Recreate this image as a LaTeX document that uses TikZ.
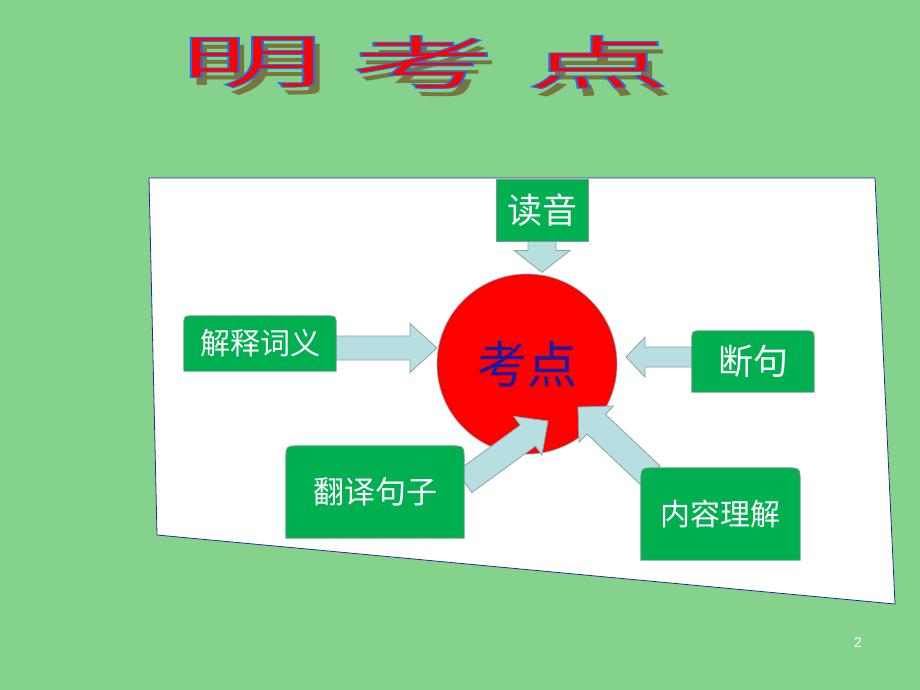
\documentclass[tikz,border=0pt]{standalone}
\usepackage{fontspec}
\newfontfamily\cjk{Noto Sans CJK SC}
\newfontfamily\numfont{Liberation Sans}
\usetikzlibrary{calc}

\definecolor{slidegreen}{RGB}{132,210,140}
\definecolor{boxgreen}{RGB}{0,176,80}
\definecolor{boxedge}{RGB}{128,150,150}
\definecolor{arrfill}{RGB}{183,222,225}
\definecolor{arredge}{RGB}{135,165,172}
\definecolor{paneledge}{RGB}{40,40,150}
\definecolor{titleshade}{RGB}{118,118,62}
\definecolor{pointblue}{RGB}{25,25,165}

\pgfdeclarelayer{back}
\pgfdeclarelayer{arrows}
\pgfdeclarelayer{boxes}
\pgfsetlayers{back,arrows,boxes,main}

\tikzset{
  boxtext/.style={text=white,inner sep=0pt},
  tabline/.style={fill=boxgreen,draw=boxedge,line width=0.8pt},
  fatarr/.style={fill=arrfill,draw=arredge,line width=0.8pt,line join=miter},
  titlechar/.style={font=\cjk\fontsize{58}{58}\selectfont,xscale=2.5,inner sep=0pt},
}

% box with rounded top corners around a node
\newcommand\tabbox[2]{%
  \filldraw[tabline] (#1.south west) -- ($(#1.north west)+(0,#2)$)
    .. controls (#1.north west) .. ($(#1.north west)+(#2,0)$)
    -- ($(#1.north east)+(-#2,0)$)
    .. controls (#1.north east) .. ($(#1.north east)+(0,#2)$)
    -- (#1.south east) -- cycle;}

% block arrow: foot, tip, shaft half width, head half width, head length
\newcommand\fatarrow[5]{%
  \coordinate (hb) at ($(#2)!#5!(#1)$);
  \filldraw[fatarr] ($(#1)!#3!90:(#2)$) -- ($(hb)!#3!90:(#2)$) -- ($(hb)!#4!90:(#2)$)
    -- (#2) -- ($(hb)!#4!-90:(#2)$) -- ($(hb)!#3!-90:(#2)$) -- ($(#1)!#3!-90:(#2)$) -- cycle;}

% red letters with a blue outline
\newcommand\outlined[1]{\special{pdf:code q 2 Tr 0.9 w 0.118 0.431 0.922 RG}#1\special{pdf:code Q}}

\newcommand\titleword[3]{%
  \node[titlechar,text=titleshade] at (#2+6,70) {#3};
  \node[titlechar,text=red] (#1) at (#2,62) {\outlined{#3}};}

\begin{document}
\begin{tikzpicture}[x=1pt,y=-1pt]

\begin{pgfonlayer}{back}
	\fill[slidegreen] (0,0) rectangle (920,690);
	\useasboundingbox (0,0) rectangle (920,690);
	\filldraw[fill=white,draw=paneledge,line width=0.8pt] (149,178) -- (875,178) -- (895,604) -- (157,535) -- cycle;
	\node[circle,fill=red,draw=arredge,line width=0.6pt,minimum size=180pt,inner sep=0pt,
	      text=pointblue,font=\cjk\fontsize{50}{50}\selectfont] (kd) at (527,364) {考点};
\end{pgfonlayer}

	\titleword{ming}{252}{明}
	\titleword{kao}{423}{考}
	\titleword{dian}{598}{点}

	\node[boxtext,fill=boxgreen,draw=boxedge,line width=0.8pt,minimum width=92pt,minimum height=62pt,
	      font=\cjk\fontsize{35}{35}\selectfont] (dy) at (542,210) {读音};
	\node[boxtext,minimum width=152pt,minimum height=55pt,font=\cjk\fontsize{30}{30}\selectfont] (jsc) at (260,343.5) {解释词义};
	\node[boxtext,minimum width=122pt,minimum height=61pt,font=\cjk\fontsize{35}{35}\selectfont] (dj) at (753,361.5) {断句};
	\node[boxtext,minimum width=178pt,minimum height=92pt,font=\cjk\fontsize{31}{31}\selectfont] (fy) at (375,492) {翻译句子};
	\node[boxtext,minimum width=159pt,minimum height=92pt,font=\cjk\fontsize{30}{30}\selectfont] (nr) at (720.5,514) {内容理解};

	\node[text=white,font=\numfont\fontsize{14}{14}\selectfont] (pg) at (858,643) {2};

\begin{pgfonlayer}{boxes}
	\tabbox{jsc}{10}
	\tabbox{dj}{10}
	\tabbox{fy}{15}
	\tabbox{nr}{15}
\end{pgfonlayer}

\begin{pgfonlayer}{arrows}
	\coordinate (dyTip) at ($(dy.south)+(0,31)$);
	\coordinate (jscTip) at (437,348);
	\coordinate (djTip) at (626,357);
	\coordinate (fyTip) at (548,421);
	\coordinate (fyFoot) at ($(fy.east)+(0,-10)$);
	\coordinate (nrTip) at (578,407);
	\coordinate (nrFoot) at ($(nr.north west)+(10,8)$);
	\fatarrow{dy.south}{dyTip}{14pt}{28pt}{22pt}
	\fatarrow{jsc.east |- jscTip}{jscTip}{12pt}{24.5pt}{27pt}
	\fatarrow{dj.west |- djTip}{djTip}{10pt}{20pt}{19pt}
	\fatarrow{fyFoot}{fyTip}{13pt}{24pt}{25pt}
	\fatarrow{nrFoot}{nrTip}{13.5pt}{25pt}{25pt}
\end{pgfonlayer}

\end{tikzpicture}
\end{document}
